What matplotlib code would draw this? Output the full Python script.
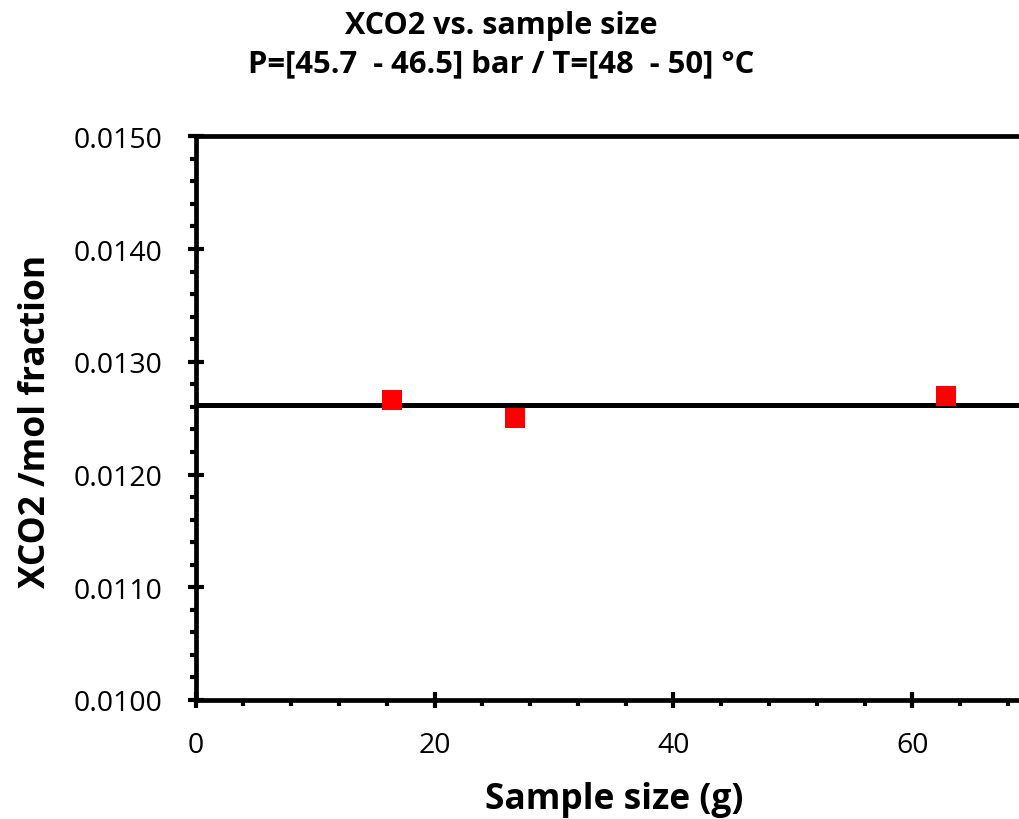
import matplotlib
matplotlib.use("Agg")
import matplotlib.pyplot as plt
from matplotlib.ticker import MultipleLocator, FormatStrFormatter
import numpy as np

# Data
sample_size_g = [16.4, 26.7, 62.8]
xco2 = [0.012661, 0.012501, 0.012693]
title_lines = ["XCO2 vs. sample size", "P=[45.7  - 46.5] bar / T=[48  - 50] \u00b0C"]
x_label = "Sample size (g)"
y_label = "XCO2 /mol fraction"

FONT = "Open Sans"
plt.rcParams['font.family'] = [FONT, 'DejaVu Sans']

W, H = 1019, 820
fig = plt.figure(figsize=(W / 100, H / 100), dpi=100)
left = 195.7 / W
bottom = 1 - 701 / H
top = 1 - 137.3 / H
xmax = 70
px_per_unit = (912.3 - 195.7) / 60
right_px = 195.7 + xmax * px_per_unit
ax_w_px = right_px - 195.7
ax_h_px = 701 - 137.3
ax = fig.add_axes([left, bottom, ax_w_px / W, top - bottom])

ax.axhline(np.mean(xco2), color='black', lw=3.6, zorder=2)
ax.plot(sample_size_g, xco2, linestyle='none', marker='s', markersize=15,
        color='#ff0000', markeredgewidth=0, zorder=3, clip_on=False)

ax.set_xlim(0, xmax)
ax.set_ylim(0.0100, 0.0150)
ax.xaxis.set_major_locator(MultipleLocator(20))
ax.xaxis.set_minor_locator(MultipleLocator(4))
ax.yaxis.set_major_locator(MultipleLocator(0.0010))
ax.yaxis.set_minor_locator(MultipleLocator(0.0002))
ax.yaxis.set_major_formatter(FormatStrFormatter('%.4f'))

for s in ['left', 'bottom', 'top']:
    ax.spines[s].set_linewidth(3.4)
ax.spines['right'].set_visible(False)

ax.tick_params(which='major', direction='inout', length=12, width=3, labelsize=20.5)
ax.tick_params(which='minor', direction='out', length=4.5, width=3)
ax.tick_params(axis='y', which='major', pad=18)
ax.tick_params(axis='x', which='major', pad=16)
ax.tick_params(top=False, right=False, which='both')

ax.set_xlabel(x_label, fontsize=25.5, fontweight='bold', va='center')
ax.set_ylabel(y_label, fontsize=25.5, fontweight='bold', va='center')
ax.xaxis.set_label_coords((614 - 195.7) / ax_w_px, (701 - 800) / ax_h_px)
ax.yaxis.set_label_coords((36 - 195.7) / ax_w_px, (701 - 421) / ax_h_px)

fig.text(501 / W, 1 - 34 / H, title_lines[0], ha='center', va='baseline', fontsize=22, fontweight='bold')
fig.text(501 / W, 1 - 72.7 / H, title_lines[1], ha='center', va='baseline', fontsize=22.3, fontweight='bold')

fig.savefig("out.png", dpi=100)
